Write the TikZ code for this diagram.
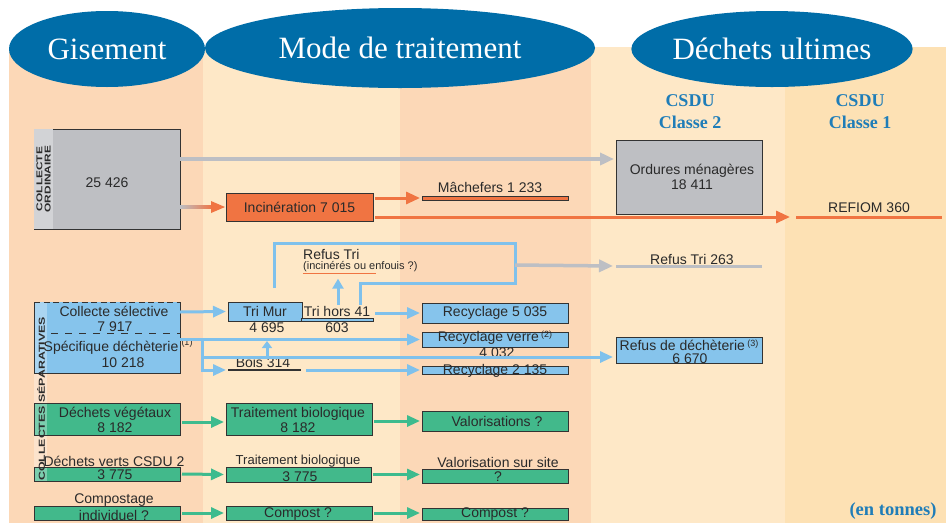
\documentclass[tikz,border=0pt]{standalone}
\usepackage{graphicx}
\usepackage{fontspec}
\setmainfont{Liberation Sans}
\newfontfamily\hdr{Liberation Serif}
\usetikzlibrary{arrows.meta,calc,shapes.geometric}
\definecolor{peach}{HTML}{FCD8B7}
\definecolor{cream}{HTML}{FEE8C7}
\definecolor{ylw}{HTML}{FDE1B4}
\definecolor{hblue}{HTML}{006DA8}
\definecolor{cblue}{HTML}{1F7DB8}
\definecolor{gbox}{HTML}{BEBFC3}
\definecolor{gstrip}{HTML}{D2D3D6}
\definecolor{gline}{HTML}{BDBFC4}
\definecolor{orng}{HTML}{F07442}
\definecolor{lblue}{HTML}{86C4EC}
\definecolor{bline}{HTML}{7FC1EC}
\definecolor{grn}{HTML}{42B98B}
\definecolor{grnl}{HTML}{3DBB8E}
\definecolor{txt}{HTML}{2A2A2A}
\definecolor{boxline}{HTML}{333333}
\newcommand\wideword[2]{\scalebox{#1}[1]{#2}}
\begin{document}
\begin{tikzpicture}[x=1pt,y=-1pt,
  box/.style={draw=boxline, line width=0.9pt, inner sep=0pt, outer sep=0pt, anchor=north west},
  lbl/.style={text=txt, font=\fontsize{14}{15}\selectfont, inner sep=0pt, align=center},
  sml/.style={text=txt, font=\fontsize{13}{14}\selectfont, inner sep=0pt, align=center},
  garr/.style={draw=gline, line width=3.5pt, -{Triangle[length=14pt,width=12pt]}},
  gln/.style={draw=gline, line width=3pt},
  oarr/.style={draw=orng, line width=3pt, -{Triangle[length=14pt,width=12pt]}},
  oln/.style={draw=orng, line width=3pt},
  barr/.style={draw=bline, line width=3pt, -{Triangle[length=13pt,width=11pt]}},
  bln/.style={draw=bline, line width=3pt},
  grarr/.style={draw=grnl, line width=3pt, -{Triangle[length=13pt,width=11pt]}},
  hd/.style={ellipse, fill=hblue, text=white, inner sep=0pt, font=\hdr\fontsize{31}{31}\selectfont},
  csdu/.style={text=cblue, inner sep=0pt, font=\hdr\bfseries\fontsize{18}{18}\selectfont},
  vtxt/.style={rotate=90, text=txt, inner sep=0pt, align=center, font=\bfseries\fontsize{8.5}{8.3}\selectfont},
]
\useasboundingbox (0,0) rectangle (946,523);
% background columns
\fill[white] (0,0) rectangle (946,523);
\fill[peach] (9,47) rectangle (203,523);
\fill[cream] (203,47) rectangle (400,523);
\fill[peach] (400,47) rectangle (591,523);
\fill[cream] (591,47) rectangle (785,523);
\fill[ylw] (785,47) rectangle (946,523);
% headers
\node[hd, minimum width=390pt, minimum height=80pt] (mode) at (400,48) {Mode de traitement};
\node[hd, minimum width=196pt, minimum height=76pt] (gis) at (107,49) {Gisement};
\node[hd, minimum width=248pt, minimum height=76pt] (dech) at (772,49) {Déchets ultimes};
\node[csdu] (c2a) at (690,101) {CSDU};
\node[csdu] (c2b) at (690,122) {Classe 2};
\node[csdu] (c1a) at (860,101) {CSDU};
\node[csdu] (c1b) at (860,122) {Classe 1};
\node[csdu, font=\hdr\bfseries\fontsize{18.5}{19}\selectfont] (unit) at (893,511) {(en tonnes)};

% ---- collecte ordinaire
\node[box, fill=gbox, minimum width=146pt, minimum height=100pt] (ord) at (34,129) {};
\fill[gstrip] ($(ord.north west)+(0.45,0.45)$) rectangle ($(ord.south west)+(19,-0.45)$);
\node[vtxt] (ordv) at (43.5,179) {\wideword{1.4}{COLLECTE}\\\wideword{1.4}{ORDINAIRE}};
\node[lbl] (ordn) at (107,183) {25 426};

\node[box, fill=gbox, minimum width=146pt, minimum height=74pt] (om) at (616,140) {};
\node[lbl, font=\fontsize{14}{15}\selectfont] (omt) at (692,177) {Ordures ménagères\\18 411};
\draw[garr] ($(ord.north east)+(0,30)$) -- ($(om.north west)+(-2,19)$);

\node[box, fill=orng, minimum width=147pt, minimum height=28pt] (inc) at (226,193) {};
\node[lbl] (inct) at (inc.center) {Incinération 7 015};
% shaded arrow ord -> inc
\shade[left color=gline, right color=orng] ($(ord.east |- inc.west)+(0,-1.75)$) rectangle ($(inc.west)+(-13,1.75)$);
\fill[orng] ($(inc.west)+(-15,-6)$) -- ($(inc.west)+(-1,0)$) -- ($(inc.west)+(-15,6)$) -- cycle;

\node[box, fill=orng, minimum width=146pt, minimum height=4pt] (mach) at (422,196) {};
\node[lbl] (macht) at (490,187) {Mâchefers 1 233};
\draw[oarr] ($(inc.east |- mach.west)+(2,0)$) -- ($(mach.west)+(-2,0)$);

\coordinate (refa) at (796,217);
\coordinate (refb) at (942,217);
\draw[oln] (refa) -- (refb);
\node[lbl] (reft) at (869,208) {REFIOM 360};
\draw[oarr] ($(inc.east)+(2,10)$) -- ($(refa)+(-6,0)$);

% ---- collecte selective
\node[anchor=north west, fill=lblue, inner sep=0pt, outer sep=0pt, minimum width=146pt, minimum height=71pt] (col) at (34,302) {};
\fill[white, opacity=0.3] (34,302) rectangle (47,482);
\draw[boxline, line width=0.9pt] (col.north west) -- (col.south west) -- (col.south east) -- (col.north east);
\draw[boxline, line width=1pt, dash pattern=on 6pt off 3.5pt] (col.north west) -- (col.north east);
\draw[boxline, line width=1pt, dash pattern=on 7pt off 7pt] ($(col.north west)+(17,31)$) -- ($(col.north east)+(0,31)$);
\node[lbl] (cs1) at (114,311) {Collecte sélective};
\node[lbl] (cs2) at (115,326.5) {7 917};
\node[lbl] (cs3) at (111,348) {Spécifique déchèterie};
\node[lbl] (cs4) at (123,363) {10 218};
\node[text=txt, inner sep=0pt, font=\fontsize{9}{9}\selectfont] (n1) at (187,343) {(1)};

\node[box, fill=lblue, minimum width=74pt, minimum height=19pt] (trimur) at (228,302) {};
\node[lbl] (trimurt) at (trimur.center) {Tri Mur};
\node[lbl] (tm2) at (267,328) {4 695};
\node[box, fill=lblue, minimum width=72pt, minimum height=3pt] (thb) at (301,318) {};
\node[lbl] (trihors) at (337,311) {Tri hors 41};
\node[lbl] (th2) at (337,328) {603};

\node[box, fill=lblue, minimum width=146pt, minimum height=20pt] (rec1) at (422,303) {};
\node[lbl] (rec1t) at (rec1.center) {Recyclage 5 035};
\node[box, fill=lblue, minimum width=146pt, minimum height=15pt] (recv) at (422,332) {};
\node[lbl] (recvt) at (495,338) {Recyclage verre\,\raisebox{4pt}{\fontsize{9}{9}\selectfont(2)}};
\node[lbl] (recvn) at (497,353) {4 032};
\node[box, fill=lblue, minimum width=146pt, minimum height=8pt] (rec2) at (422,366) {};
\node[lbl] (rec2t) at (495,371) {Recyclage 2 135};

\node[box, fill=lblue, minimum width=146pt, minimum height=26pt] (refd) at (616,337) {};
\node[lbl] (refdt) at (689,345) {Refus de déchèterie\,\raisebox{4pt}{\fontsize{9}{9}\selectfont(3)}};
\node[lbl] (refdn) at (690,359) {6 670};

\coordinate (bw) at (228,370);
\coordinate (be) at (301,370);
\draw[boxline, line width=1.5pt] (bw) -- (be);
\node[lbl] (bois) at (263,362) {Bois 314};

% blue connectors
\draw[barr] ($(col.north east)+(0,10)$) -- ($(trimur.west)+(-2,0)$);
\draw[barr] ($(thb.east |- rec1.west)+(2,0)$) -- ($(rec1.west)+(-2,0)$);
\draw[barr] (col.east |- recv.west) -- ($(recv.west)+(-2,0)$);
\coordinate (vj) at (202,340);
\draw[bln] (vj) -- ($(vj)+(0,31.5)$);
\draw[barr] ($(vj)+(-1.5,30)$) -- ($(bw)+(-2,0)$);
\draw[barr] ($(vj)+(0,17)$) -- ($(refd.south west)+(-3,-6)$);
\draw[barr] ($(be)+(5,0)$) -- ($(rec2.west)+(-2,0)$);
\draw[draw=bline, line width=3pt, -{Triangle[length=7pt,width=10pt]}] ($(vj)+(65,17)$) -- ($(vj)+(65,1)$);

% refus tri loop
\coordinate (ltr) at (515,243);
\coordinate (lr) at (515,265);
\draw[bln] ($(trimur.north)+(9,-14)$) |- (ltr) -- ++(0,40) -| ($(trihors.north)+(23,-1)$);
\node[lbl, anchor=west] (rtri) at (303,254) {Refus Tri};
\node[text=txt, inner sep=0pt, anchor=west, font=\fontsize{11}{11}\selectfont] (rtn) at (303,267) {(incinérés ou enfouis ?)};
\draw[orng, line width=1.5pt] (303,273.5) -- (376,273.5);
\draw[draw=bline, line width=3pt, -{Triangle[length=10pt,width=11pt]}] ($(trihors.north)+(1,-1)$) -- ($(trihors.north)+(1,-27)$);
\coordinate (rta) at (616,266);
\coordinate (rtb) at (762,266);
\draw[gln] (rta) -- (rtb);
\node[lbl] (rtt) at (692,259) {Refus Tri 263};
\draw[garr] (lr) -- ($(rta)+(-3,0)$);

% ---- green rows
\node[box, fill=grn, minimum width=146pt, minimum height=32pt] (dv) at (34,403) {};
\node[lbl] (dvt) at (115,420) {Déchets végétaux\\8 182};
\node[box, fill=grn, minimum width=146pt, minimum height=32pt] (tb1) at (226,403) {};
\node[lbl] (tb1t) at (298,420) {Traitement biologique\\8 182};
\node[box, fill=grn, minimum width=146pt, minimum height=20pt] (val) at (422,411) {};
\node[lbl] (valt) at (497,421) {Valorisations ?};

\node[box, fill=grn, minimum width=146pt, minimum height=14pt] (dvc) at (34,467) {};
\node[lbl] (dvct) at (114,461) {Déchets verts CSDU 2};
\node[lbl] (dvcn) at (115,475) {3 775};
\node[box, fill=grn, minimum width=145pt, minimum height=15pt] (tb2) at (226,467) {};
\node[sml] (tb2t) at (298,461) {Traitement biologique};
\node[lbl] (tb2n) at (300,477) {3 775};
\node[box, fill=grn, minimum width=146pt, minimum height=14pt] (vss) at (422,469) {};
\node[lbl] (vsst) at (498,462) {Valorisation sur site};
\node[lbl] (vssn) at (498,477) {?};

\node[box, fill=grn, minimum width=146pt, minimum height=14pt] (comp) at (34,506) {};
\node[lbl] (compt) at (114,500) {Compostage};
\node[lbl] (compn) at (114,515) {individuel ?};
\node[box, fill=grn, minimum width=146pt, minimum height=14pt] (cp1) at (226,506) {};
\node[lbl] (cp1t) at (298,514) {Compost ?};
\node[box, fill=grn, minimum width=146pt, minimum height=12pt] (cp2) at (422,508) {};
\node[lbl] (cp2t) at (495,514) {Compost ?};

\fill[white, opacity=0.3] (34.5,403.5) rectangle (47,434.5);
\fill[white, opacity=0.3] (34.5,467.5) rectangle (47,480.5);
\node[vtxt, font=\bfseries\fontsize{8.7}{8.7}\selectfont] (csep) at (41,399) {\wideword{1.42}{COLLECTES SÉPARATIVES}};

\draw[grarr] ($(dv.east)+(2,3)$) -- ($(tb1.west)+(-2,3)$);
\draw[grarr] ($(tb1.east |- val.west)+(2,0)$) -- ($(val.west)+(-2,0)$);
\draw[grarr] ($(dvc.east)+(2,0)$) -- ($(tb2.west)+(-2,0)$);
\draw[grarr] ($(tb2.east)+(2,0)$) -- ($(vss.west |- tb2.east)+(-2,0)$);
\draw[grarr] ($(comp.east)+(2,0)$) -- ($(cp1.west)+(-2,0)$);
\draw[grarr] ($(cp1.east)+(2,0)$) -- ($(cp2.west |- cp1.east)+(-2,0)$);
\end{tikzpicture}
\end{document}
